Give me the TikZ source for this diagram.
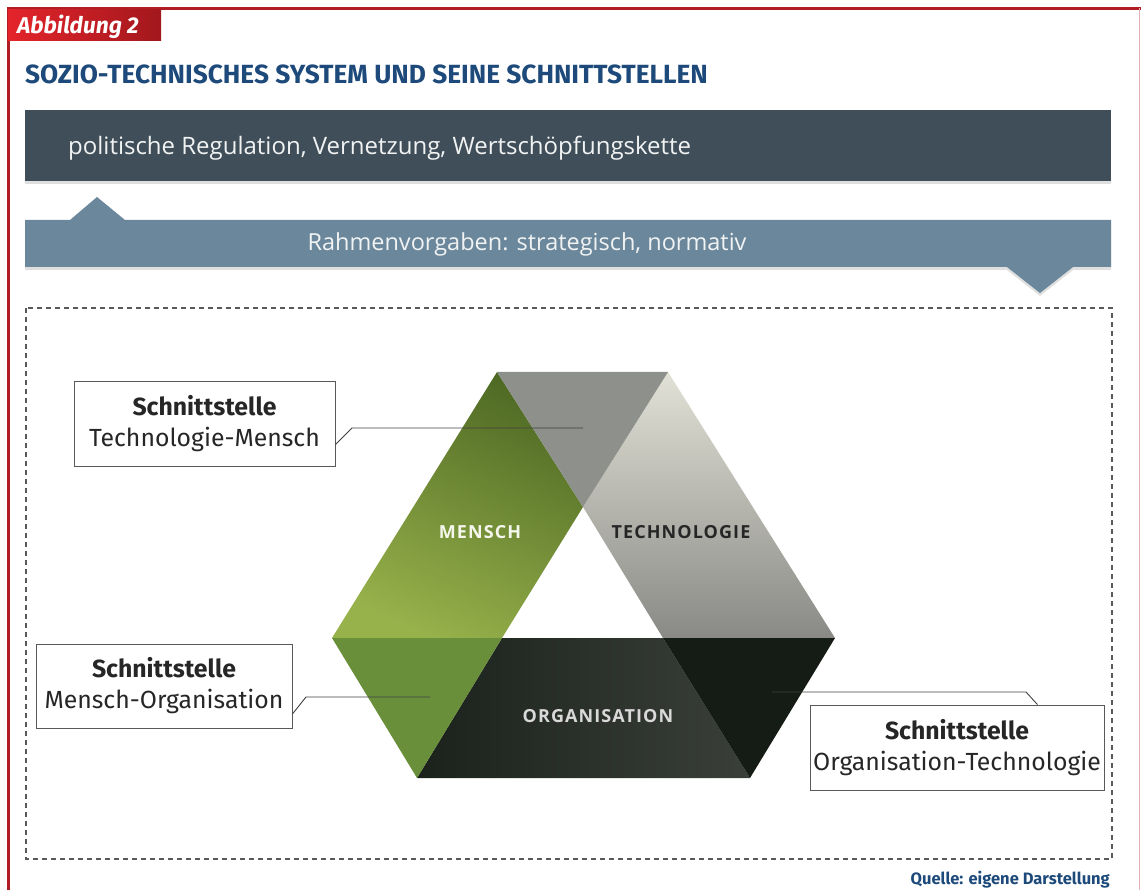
\documentclass[tikz,border=0pt]{standalone}
\usepackage{fontspec}
\setmainfont{Fira Sans}
\newfontfamily\bannerfont{Open Sans}
\newfontfamily\corefont[LetterSpace=6]{Open Sans}
\usetikzlibrary{shadows}

\definecolor{framered}{HTML}{B01E23}
\definecolor{tabred}{HTML}{E3242B}
\definecolor{tabdark}{HTML}{A2181D}
\definecolor{titleblue}{HTML}{1D4A7A}
\definecolor{bannerdark}{HTML}{3F4E59}
\definecolor{bannerlight}{HTML}{6B879C}
\definecolor{menschtop}{HTML}{4F6A24}
\definecolor{menschbot}{HTML}{97B14B}
\definecolor{menschorg}{HTML}{6A8F3B}
\definecolor{techtop}{HTML}{E2E1D6}
\definecolor{techbot}{HTML}{898A86}
\definecolor{techmensch}{HTML}{8E908B}
\definecolor{orgleft}{HTML}{1B211B}
\definecolor{orgright}{HTML}{3A3F39}
\definecolor{orgtech}{HTML}{151B15}

\begin{document}
\begin{tikzpicture}[
    x=1pt, y=-1pt,
    banner/.style={
        drop shadow={shadow xshift=0pt, shadow yshift=-3pt, opacity=.25},
    },
    bannertext/.style={
        text=white!93!bannerdark,
        font=\bannerfont\fontsize{23.5}{28}\selectfont,
        inner sep=0pt,
    },
    corelabel/.style={
        font=\corefont\bfseries\fontsize{18}{21}\selectfont,
        inner sep=0pt,
    },
    callout/.style={
        draw=black!65,
        fill=white,
        line width=0.9pt,
        inner sep=0pt,
        align=center,
        text=black!85,
        font=\fontsize{24.8}{31}\selectfont,
    },
    leader/.style={
        draw=black!75,
        line width=0.9pt,
    },
]
    \useasboundingbox (0,0) rectangle (1141,890);

    % Frame and tab
    \draw[framered, line width=2.5pt] (8.5,890) -- (8.5,8.5) -- (1141,8.5);
    \draw[framered!35, line width=1pt] (1139.5,8.5) -- (1139.5,890);
    \shade[left color=tabred, right color=tabdark] (8,10) rectangle (161,41);
    \node[anchor=base west, inner sep=0pt, text=white,
          font=\bfseries\itshape\fontsize{22.8}{26}\selectfont] (tab) at (17,34) {Abbildung 2};

    % Title
    \node[anchor=base west, inner sep=0pt, text=titleblue,
          font=\bfseries\fontsize{26.3}{30}\selectfont] (title) at (25,84)
          {SOZIO-TECHNISCHES SYSTEM UND SEINE SCHNITTSTELLEN};

    % Banners
    \fill[bannerdark, banner] (25,110) rectangle (1111,181);
    \node[bannertext, anchor=base west, font=\bannerfont\fontsize{24}{28}\selectfont] (regulation) at (68,155)
          {politische Regulation, Vernetzung, Wertschöpfungskette};
    \fill[bannerlight, banner] (25,220) -- (70,220) -- (97,197) -- (125,220)
        -- (1111,220) -- (1111,267) -- (1073,267) -- (1040,293) -- (1007,267)
        -- (25,267) -- cycle;
    \node[bannertext, anchor=base] (rahmen) at (527,251)
          {Rahmenvorgaben: strategisch, normativ};

    % Dashed frame
    \draw[black!65, line width=1.6pt, dash pattern=on 5pt off 4pt] (26,308) rectangle (1112,859);

    % Triangle corners
    \coordinate (tl) at (497,372);
    \coordinate (tr) at (668,372);
    \coordinate (l)  at (332,638);
    \coordinate (r)  at (835,638);
    \coordinate (bl) at (417,778);
    \coordinate (br) at (750,778);
    \coordinate (ia) at (583,507);
    \coordinate (il) at (502,638);
    \coordinate (ir) at (663,638);

    % Bands
    \shade[top color=menschtop, bottom color=menschbot, shading angle=-25]
        (tl) -- (ia) -- (il) -- (l) -- cycle;
    \shade[top color=techtop, bottom color=techbot]
        (tr) -- (r) -- (ir) -- (ia) -- cycle;
    \shade[left color=orgleft, right color=orgright]
        (il) -- (ir) -- (br) -- (bl) -- cycle;

    % Overlaps
    \fill[techmensch] (tl) -- (tr) -- (ia) -- cycle;
    \fill[menschorg] (l) -- (il) -- (bl) -- cycle;
    \fill[orgtech] (ir) -- (r) -- (br) -- cycle;

    % Band labels
    \node[corelabel, text=white!90!menschbot] (mensch) at (480,532) {MENSCH};
    \node[corelabel, text=black!85] (technologie) at (681,532) {TECHNOLOGIE};
    \node[corelabel, text=black!15] (organisation) at (598,716) {ORGANISATION};

    % Callouts
    \node[callout, minimum width=261pt, minimum height=85pt] (tmbox) at (204.5,423.5)
        {{\bfseries Schnittstelle}\\Technologie-Mensch};
    \node[callout, minimum width=256pt, minimum height=84pt] (mobox) at (164,686)
        {{\bfseries Schnittstelle}\\Mensch-Organisation};
    \node[callout, minimum width=294pt, minimum height=85pt] (otbox) at (957,747.5)
        {{\bfseries Schnittstelle}\\Organisation-Technologie};

    % Leader lines
    \coordinate (tmknee) at (352,428);
    \coordinate (tmend) at (583,428);
    \coordinate (moknee) at (306,697);
    \coordinate (moend) at (430,697);
    \coordinate (otknee) at (1026,692);
    \coordinate (otend) at (772,692);
    \draw[leader] ([yshift=-21pt]tmbox.east) -- (tmknee) -- (tmend);
    \draw[leader] ([yshift=-28pt]mobox.east) -- (moknee) -- (moend);
    \draw[leader] ([xshift=-67pt]otbox.north east) -- (otknee) -- (otend);

    % Source
    \node[anchor=base east, inner sep=0pt, text=titleblue,
          font=\bfseries\fontsize{16.5}{20}\selectfont] (source) at (1110,884)
          {Quelle: eigene Darstellung};
\end{tikzpicture}
\end{document}
